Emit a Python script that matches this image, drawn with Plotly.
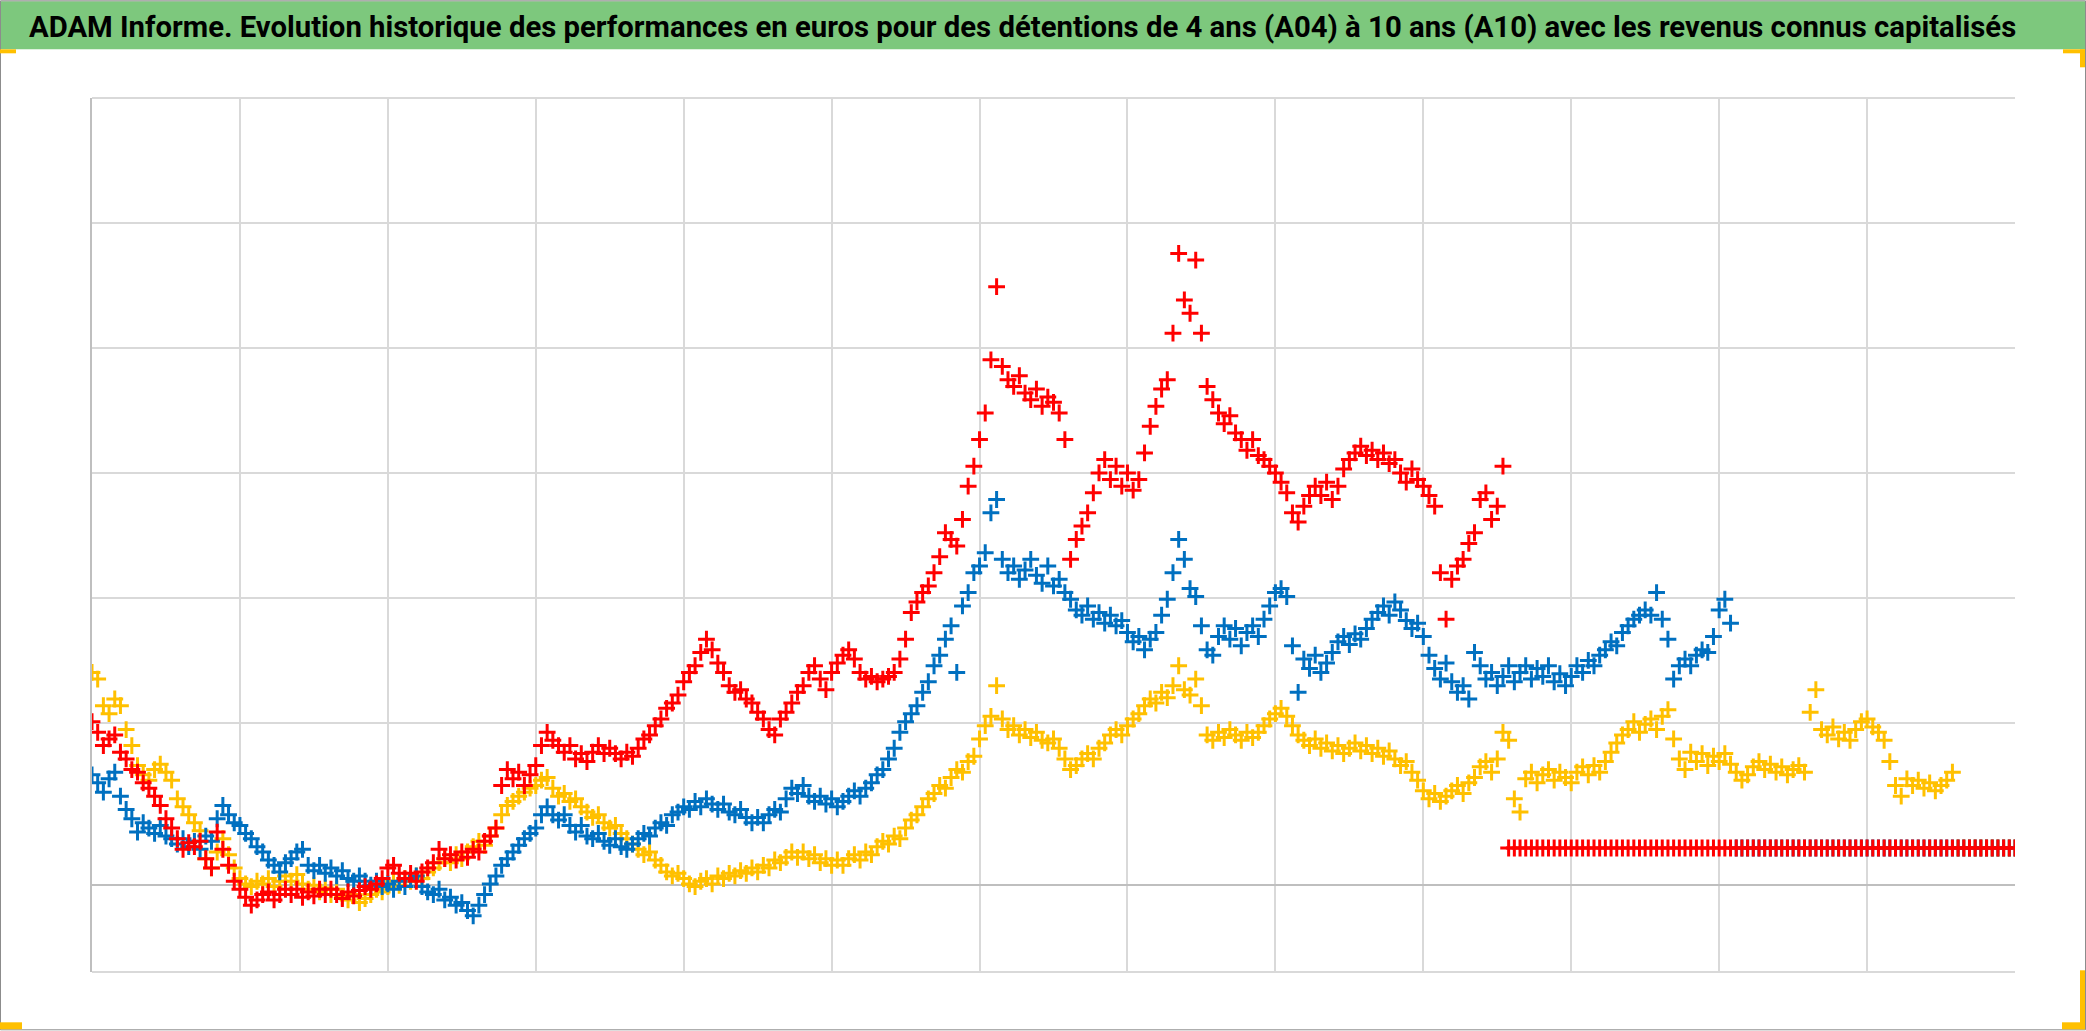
import plotly.graph_objects as go

# ---- data (height above the horizontal axis, arbitrary units), one sample every 1/26 of a grid step ----
red_values = [
    123, 115, 105, 110, 113, 100, 95, 87, 85, 77, 73, 67, 60, 50, 43, 35, 27, 32, 29, 33, 20, 13, 40, 27, 15, 3,
    -3, -9, -15, -11, -7, -5, -11, -7, -3, -7, -3, -9, -5, -8, -3, -7, -3, -7, -10, -5, -8, -4, -1, -3, 1, 5,
    13, 15, 9, 5, 9, 3, 10, 13, 17, 27, 20, 23, 19, 25, 21, 27, 25, 33, 37, 43, 75, 87, 80, 85, 75, 83,
    90, 105, 115, 109, 105, 100, 105, 95, 99, 93, 100, 105, 99, 103, 99, 95, 100, 97, 103, 110, 113, 120, 125, 133, 137, 143,
    153, 160, 165, 175, 185, 177, 167, 160, 150, 145, 147, 140, 137, 130, 125, 117, 113, 125, 130, 137, 145, 150, 160, 165, 155, 147,
    160, 167, 173, 177, 170, 160, 155, 157, 153, 155, 157, 160, 170, 185, 205, 213, 220, 225, 235, 247, 265, 260, 255, 275, 300, 315,
    335, 355, 395, 450, 390, 380, 375, 383, 370, 365, 373, 360, 367, 363, 355, 335, 245, 260, 270, 280, 295, 310, 320, 305, 315, 300,
    310, 297, 305, 325, 345, 360, 373, 380, 415, 475, 440, 430, 470, 415, 375, 365, 355, 347, 353, 340, 335, 327, 335, 323, 320, 315,
    310, 303, 295, 280, 273, 285, 293, 300, 293, 303, 290, 300, 313, 320, 325, 330, 323, 327, 320, 325, 317, 320, 310, 303, 313, 305,
    300, 293, 285, 235, 200, 230, 240, 245, 257, 265, 290, 295, 275, 285, 315,
]
red_tail = [
    28, 28, 28, 28, 28, 28, 28, 28, 28, 28, 28, 28, 28, 28, 28, 28, 28, 28, 28, 28, 28, 28, 28, 28, 28, 28, 28, 28, 28, 28,
    28, 28, 28, 28, 28, 28, 28, 28, 28, 28, 28, 28, 28, 28, 28, 28, 28, 28, 28, 28, 28, 28, 28, 28, 28, 28, 28, 28, 28, 28,
    28, 28, 28, 28, 28, 28, 28, 28, 28, 28, 28, 28, 28, 28, 28, 28, 28, 28, 28, 28, 28, 28, 28, 28, 28, 28, 28, 28, 28, 28,
]

blue_values = [
    83, 77, 70, 80, 85, 67, 57, 50, 40, 47, 43, 39, 45, 37, 35, 31, 35, 29, 33, 27, 37, 33, 50, 60, 53, 47,
    45, 39, 35, 29, 25, 19, 15, 10, 17, 20, 25, 27, 15, 11, 15, 9, 13, 7, 11, 5, 3, 7, 3, 0, 3, -1,
    1, -3, 3, -1, 5, 7, -1, -5, -7, -3, -11, -9, -15, -13, -19, -23, -15, -7, 1, 7, 15, 20, 25, 30, 35, 39,
    43, 53, 59, 53, 49, 53, 45, 40, 45, 37, 35, 39, 33, 30, 35, 29, 27, 31, 35, 39, 37, 43, 47, 45, 53, 55,
    59, 57, 63, 59, 65, 61, 57, 61, 55, 53, 57, 51, 47, 51, 47, 53, 57, 55, 65, 73, 69, 75, 67, 63, 67, 61,
    65, 59, 63, 67, 71, 67, 73, 77, 83, 87, 95, 103, 115, 123, 129, 135, 145, 153, 165, 173, 185, 195, 160, 210, 220, 235,
    240, 250, 280, 290, 245, 235, 240, 230, 237, 245, 233, 227, 240, 225, 230, 220, 215, 207, 203, 210, 200, 205, 197, 203, 195, 199,
    190, 183, 187, 177, 185, 190, 203, 215, 235, 260, 245, 223, 217, 195, 177, 173, 187, 195, 185, 193, 180, 190, 195, 187, 200, 210,
    220, 223, 217, 180, 145, 170, 163, 173, 160, 167, 175, 183, 187, 181, 189, 185, 193, 200, 205, 210, 203, 213, 207, 199, 193, 197,
    187, 173, 163, 155, 167, 153, 145, 150, 140, 175, 165, 155, 160, 150, 157, 165, 153, 160, 165, 155, 163, 157, 165, 153, 159, 150,
    157, 165, 160, 169, 165, 173, 177, 183, 180, 190, 195, 200, 203, 207, 203, 220, 200, 185, 155, 165, 170, 165, 173, 177, 175, 187,
    207, 215, 197,
]
blue_tail = [
    28, 28, 28, 28, 28, 28, 28, 28, 28, 28, 28, 28, 28, 28, 28, 28, 28, 28, 28, 28, 28, 28, 28, 28, 28,
    28, 28, 28, 28, 28, 28, 28, 28, 28, 28, 28, 28, 28, 28, 28, 28, 28, 28, 28, 28, 28, 28, 28, 28, 28,
]

yellow_values = [
    160, 155, 135, 129, 140, 135, 117, 105, 90, 83, 79, 87, 91, 85, 79, 65, 59, 53, 47, 41, 20, 13, 25, 35, 23, 13,
    5, 1, -1, 3, 1, 5, -1, 3, 7, 3, 8, 1, -3, 0, -5, -2, -7, -3, -9, -11, -7, -13, -10, -7, -3, -5,
    -1, 3, 0, 5, 3, 7, 5, 10, 13, 17, 20, 17, 23, 20, 25, 29, 33, 30, 37, 43, 53, 60, 63, 67, 70, 73,
    75, 79, 81, 73, 67, 69, 63, 65, 59, 55, 51, 53, 47, 43, 45, 39, 35, 31, 27, 23, 25, 19, 15, 10, 7, 9,
    5, 1, -1, 3, 5, 1, 7, 5, 9, 7, 11, 9, 13, 10, 15, 13, 19, 17, 21, 25, 21, 25, 20, 23, 17, 20,
    15, 19, 15, 20, 23, 19, 25, 23, 29, 33, 31, 37, 35, 43, 49, 53, 59, 65, 69, 75, 73, 81, 87, 85, 93, 97,
    110, 120, 127, 150, 125, 117, 120, 113, 117, 111, 115, 109, 107, 110, 103, 95, 87, 90, 95, 99, 95, 103, 107, 113, 117, 113,
    120, 125, 129, 135, 140, 137, 145, 141, 150, 165, 147, 143, 155, 135, 113, 109, 115, 111, 117, 113, 109, 115, 111, 115, 120, 125,
    129, 133, 127, 120, 113, 109, 105, 110, 103, 107, 101, 105, 99, 103, 107, 101, 105, 99, 103, 97, 101, 95, 90, 93, 85, 79,
    71, 65, 69, 63, 67, 71, 75, 69, 77, 81, 89, 93, 85, 95, 115, 109, 65, 55, 80, 85, 77, 83, 87, 79, 85, 81,
    77, 85, 89, 83, 90, 85, 93, 100, 107, 113, 117, 123, 115, 121, 125, 117, 127, 132, 110, 95, 87, 100, 93, 99, 90, 97,
    93, 99, 91, 85, 79, 83, 89, 93, 87, 91, 85, 89, 83, 87, 90, 85, 130, 147, 117, 113, 119, 110, 115, 109, 117, 123,
    125, 119, 115, 109, 93, 75, 67, 80, 75, 79, 73, 77, 71, 75, 79, 85,
]
yellow_tail = [28, 28, 28, 28, 28, 28, 28, 28, 28, 28, 28]

SAMPLES_PER_STEP = 26
grid_x = [1, 2, 3, 4, 5, 6, 7, 8, 9, 10, 11, 12]
grid_y = [122, 215.9, 309.9, 403.8, 497.8]
x_range = [0, 13]
y_range = [-65.2, 591.8]

title_text = ("ADAM Informe. Evolution historique des performances en euros pour des détentions "
              "de 4 ans (A04) à 10 ans (A10) avec les revenus connus capitalisés")

series = [
    ("A10", yellow_values + yellow_tail, "#FFC000"),
    ("A07", blue_values + blue_tail, "#0070C0"),
    ("A04", red_values + red_tail, "#FF0000"),
]

# ---- layout geometry (pixels) ----
W, H = 2086, 1031
L, R, T, B = 92, 2015, 97.7, 971.7


def px(xp):
    return (xp - L) / (R - L)


def py(yp):
    return (B - yp) / (B - T)


fig = go.Figure()
for name, vals, col in series:
    fig.add_trace(go.Scatter(
        x=[i / SAMPLES_PER_STEP for i in range(len(vals))],
        y=vals,
        mode="markers",
        name=name,
        marker=dict(symbol="cross-thin", size=12, color=col,
                    line=dict(width=3, color=col)),
        hoverinfo="skip",
    ))

shapes = []
# title band
shapes.append(dict(type="rect", xref="paper", yref="paper", layer="below",
                   x0=px(0), x1=px(2085), y0=py(1), y1=py(49),
                   fillcolor="#7DC87D", line=dict(width=0)))
# outer frame
shapes.append(dict(type="rect", xref="paper", yref="paper",
                   x0=px(0.5), x1=px(2085.5), y0=py(0.5), y1=py(1029.5),
                   line=dict(color="#8C8C8C", width=1)))
# top / bottom border lines of the plot area
for yy in (T, B):
    shapes.append(dict(type="line", xref="paper", yref="paper", layer="below",
                       x0=0, x1=1, y0=py(yy), y1=py(yy),
                       line=dict(color="#D9D9D9", width=2)))
# orange selection corners
orange = "#FFC000"
corner_rects = [
    (0, 16, 49, 53),
    (2063, 2085, 49, 53), (2080, 2085, 49, 67),
    (0, 22, 1022, 1029),
    (2062, 2085, 1022, 1029), (2080, 2085, 970, 1029),
]
for x0, x1, y0, y1 in corner_rects:
    shapes.append(dict(type="rect", xref="paper", yref="paper",
                       x0=px(x0), x1=px(x1), y0=py(y0), y1=py(y1),
                       fillcolor=orange, line=dict(width=0)))

fig.update_layout(
    width=W, height=H,
    margin=dict(l=L, r=W - R, t=T, b=H - B, pad=0),
    paper_bgcolor="white", plot_bgcolor="white",
    showlegend=False,
    shapes=shapes,
    annotations=[dict(text="<b>" + title_text + "</b>", xref="paper", yref="paper",
                      x=px(1022), y=py(27), xanchor="center", yanchor="middle",
                      showarrow=False,
                      font=dict(family="Liberation Sans Narrow, Roboto, sans-serif",
                                size=29.3, color="black"))],
    xaxis=dict(range=x_range, tickvals=grid_x, showticklabels=False, ticks="",
               showgrid=True, gridcolor="#D9D9D9", gridwidth=2,
               zeroline=False, showline=False, fixedrange=True),
    yaxis=dict(range=y_range, tickvals=grid_y, showticklabels=False, ticks="",
               showgrid=True, gridcolor="#D9D9D9", gridwidth=2,
               zeroline=True, zerolinecolor="#BFBFBF", zerolinewidth=2,
               showline=True, linecolor="#BFBFBF", linewidth=2, fixedrange=True),
)

fig.write_html("out.html", config={"displayModeBar": False},
               post_script="document.body.style.margin='0';document.body.style.overflow='hidden';")
